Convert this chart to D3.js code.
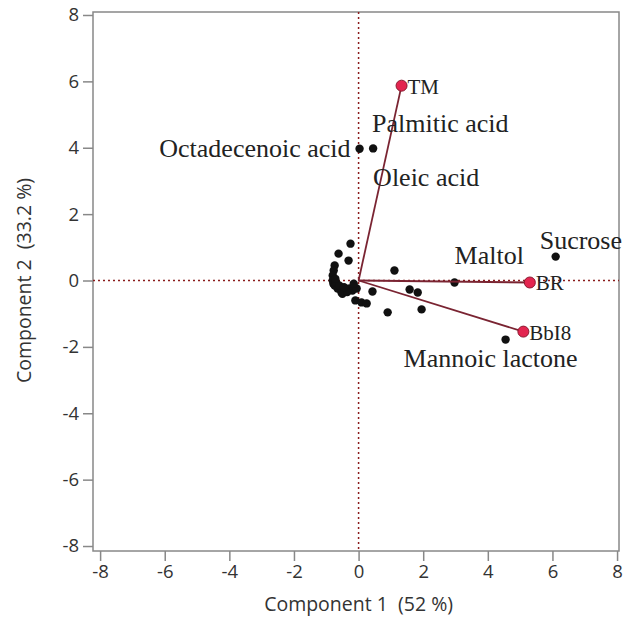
<html>
<head>
<meta charset="utf-8">
<title>PCA biplot</title>
<style type="text/css">
body { margin: 0; background: #fff; }
.axis text { font-family: "Open Sans", "Noto Sans", sans-serif; font-size: 18.5px; fill: #333; }
.axis path, .axis line { stroke: #888; stroke-width: 1.5; }
.lbl { font-family: "Liberation Serif", "Times New Roman", serif; font-size: 26px; fill: #222; }
.ttl { font-family: "Open Sans", "Noto Sans", sans-serif; font-size: 19.5px; fill: #333; white-space: pre; }
</style>
</head>
<body>
<script src="https://d3js.org/d3.v7.min.js"></script>
<script>

// scores: the many unlabelled compounds clustered round the origin
var scoreX = [-0.25, -0.62, -0.31, -0.74, -0.77, -0.80, -0.80, -0.78, -0.74, -0.65, -0.53, -0.43, -0.28, -0.19, -0.06,
              -0.70, -0.60, -0.50, -0.35, -0.72, -0.10, 0.09, 0.25, 0.90, 1.11, 0.43, 1.58, 1.83, 1.95, -0.45, -0.15];
var scoreY = [1.11, 0.81, 0.60, 0.45, 0.30, 0.15, 0.00, -0.10, -0.15, -0.24, -0.36, -0.30, -0.24, -0.30, -0.24,
              -0.05, -0.15, -0.40, -0.35, 0.05, -0.60, -0.66, -0.69, -0.96, 0.30, -0.33, -0.27, -0.36, -0.87, -0.20, -0.10];

// labelled compounds
var compounds = ["Octadecenoic acid", "Palmitic acid", "Sucrose", "Maltol", "Mannoic lactone"];
var compX = [0.03, 0.45, 6.1, 2.97, 4.55];
var compY = [3.97, 3.98, 0.72, -0.06, -1.78];

// loadings (samples)
var samples = ["TM", "BR", "BbI8"];
var loadX = [1.33, 5.3, 5.1];
var loadY = [5.87, -0.06, -1.54];

var xTicks = [-8, -6, -4, -2, 0, 2, 4, 6, 8];
var yTicks = [-8, -6, -4, -2, 0, 2, 4, 6, 8];

var margin = {top: 12, right: 13, bottom: 67, left: 93},
    width = 632 - margin.left - margin.right,
    height = 618 - margin.top - margin.bottom;

var x = d3.scaleLinear().domain([-8.22, 8.06]).range([0, width]);
var y = d3.scaleLinear().domain([-8.15, 8.09]).range([height, 0]);

var svg = d3.select("body").append("svg")
    .attr("width", 632)
    .attr("height", 618)
    .append("g")
    .attr("transform", "translate(" + margin.left + "," + margin.top + ")");

// frame
svg.append("rect")
    .attr("width", width).attr("height", height)
    .attr("fill", "none").attr("stroke", "#888").attr("stroke-width", 1.5);

// plain hyphen for negatives, like the original
var fmt = function(d) { return String(d); };

svg.append("g")
    .attr("class", "axis")
    .attr("transform", "translate(0," + height + ")")
    .call(d3.axisBottom(x).tickValues(xTicks).tickFormat(fmt).tickSize(10).tickSizeOuter(0).tickPadding(4))
    .call(function(g) { g.select(".domain").remove(); });

svg.append("g")
    .attr("class", "axis")
    .call(d3.axisLeft(y).tickValues(yTicks).tickFormat(fmt).tickSize(10).tickSizeOuter(0).tickPadding(4))
    .call(function(g) { g.select(".domain").remove(); });

// zero reference lines
svg.append("line")
    .attr("x1", 0).attr("x2", width).attr("y1", y(0)).attr("y2", y(0))
    .attr("stroke", "#8b1c1c").attr("stroke-width", 1.5).attr("stroke-dasharray", "2,3");
svg.append("line")
    .attr("x1", x(0)).attr("x2", x(0)).attr("y1", 0).attr("y2", height)
    .attr("stroke", "#8b1c1c").attr("stroke-width", 1.5).attr("stroke-dasharray", "2,3");

// score points
var scores = scoreX.map(function(v, i) { return {x: v, y: scoreY[i]}; });
svg.selectAll(".pt")
    .data(scores)
    .enter().append("circle")
    .attr("class", "pt")
    .attr("cx", function(d) { return x(d.x); })
    .attr("cy", function(d) { return y(d.y); })
    .attr("r", 4.2)
    .attr("fill", "#111");

var comps = compounds.map(function(n, i) { return {name: n, x: compX[i], y: compY[i]}; });
svg.selectAll(".cp")
    .data(comps)
    .enter().append("circle")
    .attr("class", "cp")
    .attr("cx", function(d) { return x(d.x); })
    .attr("cy", function(d) { return y(d.y); })
    .attr("r", 4.2)
    .attr("fill", "#111");

// loading rays
var loads = samples.map(function(n, i) { return {name: n, x: loadX[i], y: loadY[i]}; });
svg.selectAll(".ray")
    .data(loads)
    .enter().append("line")
    .attr("class", "ray")
    .attr("x1", x(0)).attr("y1", y(0))
    .attr("x2", function(d) { return x(d.x); })
    .attr("y2", function(d) { return y(d.y); })
    .attr("stroke", "#7a2432").attr("stroke-width", 1.8);

svg.selectAll(".ld")
    .data(loads)
    .enter().append("circle")
    .attr("class", "ld")
    .attr("cx", function(d) { return x(d.x); })
    .attr("cy", function(d) { return y(d.y); })
    .attr("r", 5.5)
    .attr("fill", "#e3254f")
    .attr("stroke", "#8a1a30").attr("stroke-width", 1);

// text labels (pixel offsets from their point)
var compOffset = {
  "Octadecenoic acid": [-9, 8, "end"],
  "Palmitic acid": [-1, -16, "start"],
  "Sucrose": [-16, -8, "start"],
  "Maltol": [0, -18, "start"],
  "Mannoic lactone": [-102, 27, "start"]
};
svg.selectAll(".clbl")
    .data(comps)
    .enter().append("text")
    .attr("class", "lbl")
    .attr("x", function(d) { return x(d.x) + compOffset[d.name][0]; })
    .attr("y", function(d) { return y(d.y) + compOffset[d.name][1]; })
    .attr("text-anchor", function(d) { return compOffset[d.name][2]; })
    .text(function(d) { return d.name; });

// Oleic acid sits under Palmitic acid
svg.append("text")
    .attr("class", "lbl")
    .attr("x", x(compX[1]))
    .attr("y", y(compY[1]) + 38)
    .text("Oleic acid");

svg.selectAll(".slbl")
    .data(loads)
    .enter().append("text")
    .attr("class", "lbl")
    .style("font-size", "21px")
    .attr("x", function(d) { return x(d.x) + 6; })
    .attr("y", function(d) { return y(d.y) + 8; })
    .text(function(d) { return d.name; });

// axis titles
svg.append("text")
    .attr("class", "ttl")
    .attr("text-anchor", "middle")
    .attr("x", x(0))
    .attr("y", height + 60)
    .text("Component 1  (52 %)");

svg.append("text")
    .attr("class", "ttl")
    .attr("text-anchor", "middle")
    .attr("transform", "rotate(-90)")
    .attr("x", -y(0))
    .attr("y", -62)
    .text("Component 2  (33.2 %)");

</script>
</body>
</html>
